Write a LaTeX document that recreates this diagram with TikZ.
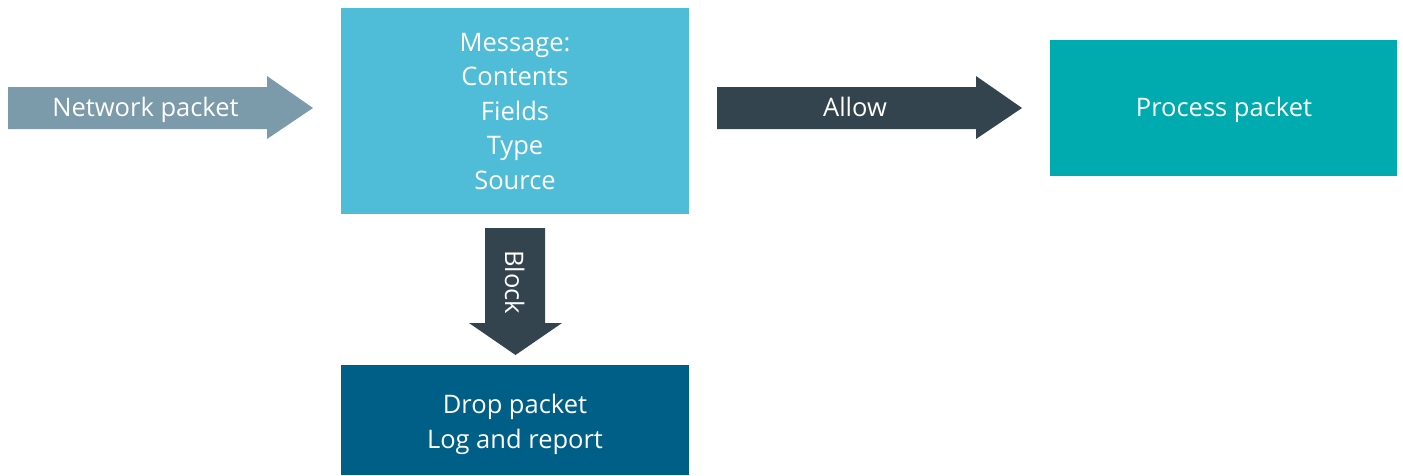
\documentclass[tikz,border=0pt]{standalone}
\usepackage{fontspec}
\setmainfont{Open Sans}
\definecolor{inflow}{HTML}{7B9BAB}
\definecolor{msgblue}{HTML}{50BDD8}
\definecolor{slate}{HTML}{33444E}
\definecolor{teal}{HTML}{00ABAF}
\definecolor{deepblue}{HTML}{005F87}
\begin{document}
\begin{tikzpicture}[x=1pt,y=-1pt,
  box/.style={inner sep=0pt, text=white, align=center},
  lbl/.style={inner sep=0pt, text=white, anchor=base},
  every node/.style={font=\fontsize{25.5}{34.5}\selectfont}]
\useasboundingbox (0,0) rectangle (1403,475);

% boxes (multi-line text is anchored on the baseline of its last line)
\fill[msgblue] (341,8) rectangle (689,214);
\node[box, anchor=base] (msg) at (515,189) {Message:\\Contents\\Fields\\Type\\Source};
\fill[teal] (1050,40) rectangle (1397,176);
\node[box, anchor=base] (proc) at (1224,116.5) {Process packet};
\fill[deepblue] (341,365) rectangle (689,475);
\node[box, anchor=base, font=\fontsize{25.5}{35}\selectfont] (drop) at (515,448) {Drop packet\\Log and report};

% incoming packet arrow
\fill[inflow] (8,87) -- (267,87) -- (267,76) -- (313,108) -- (267,139) -- (267,129) -- (8,129) -- cycle;
\node[lbl] (inlbl) at (145.5,116.5) {Network packet};

% allow arrow
\fill[slate] (717,87) -- (976,87) -- (976,76) -- (1022,108) -- (976,139) -- (976,129) -- (717,129) -- cycle;
\node[lbl] (allow) at (855,116.5) {Allow};

% block arrow
\fill[slate] (485,228) -- (545,228) -- (545,323) -- (562,323) -- (515.5,355) -- (469,323) -- (485,323) -- cycle;
\node[lbl, rotate=-90] (block) at (505,282) {Block};
\end{tikzpicture}
\end{document}
